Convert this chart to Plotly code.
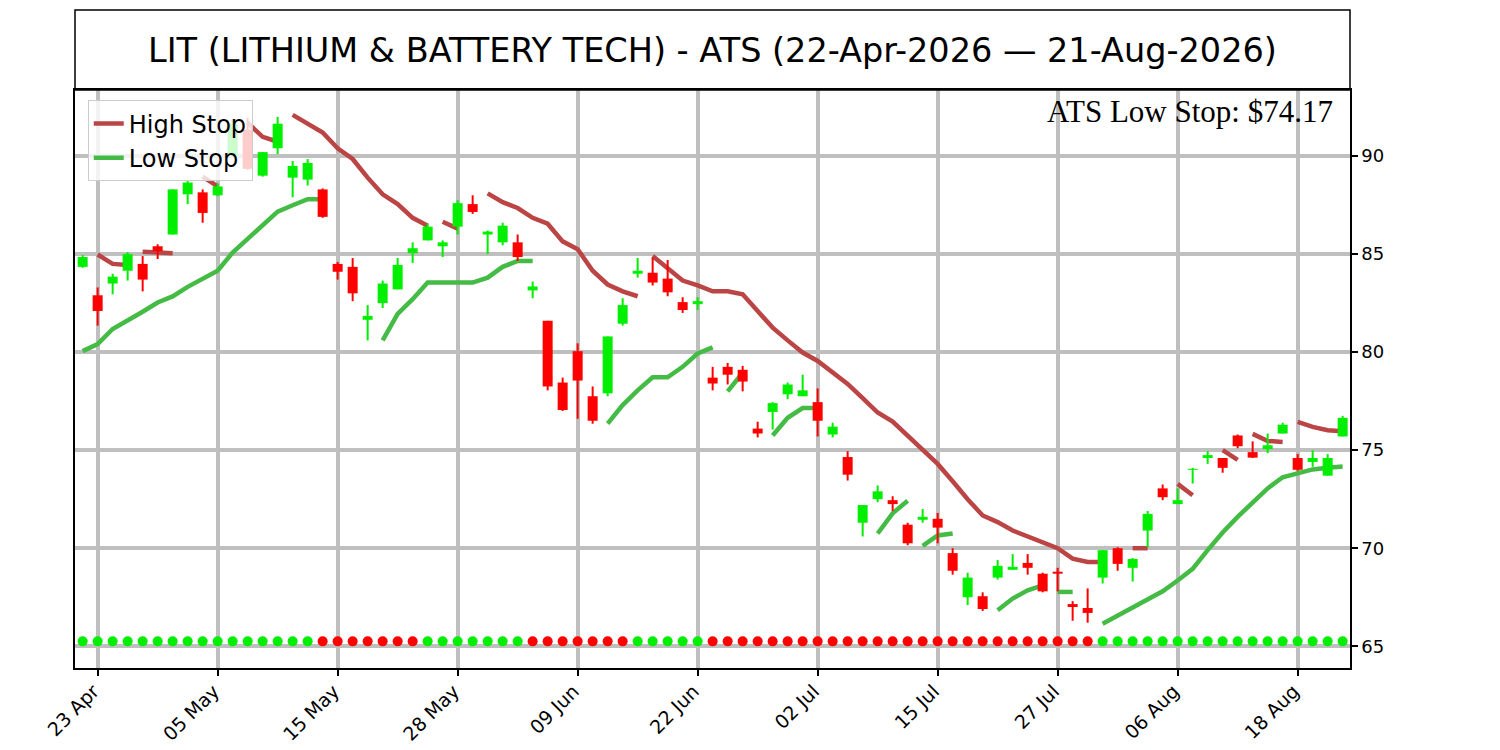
import plotly.graph_objects as go

TITLE = "LIT (LITHIUM & BATTERY TECH) - ATS (22-Apr-2026 — 21-Aug-2026)"
TICK_IDX = [1, 9, 17, 25, 33, 41, 49, 57, 65, 73, 81]
TICK_TEXT = ["23 Apr", "05 May", "15 May", "28 May", "09 Jun", "22 Jun",
             "02 Jul", "15 Jul", "27 Jul", "06 Aug", "18 Aug"]

# daily OHLC, one value per trading day (index 0 = 22-Apr-2026)
OPEN = [84.35, 82.9, 83.5, 84.15, 84.5, 85.4, 86.0, 88.05, 88.15, 88.0,
        90.05, 91.35, 89.0, 90.4, 88.9, 88.8, 88.3, 84.5, 84.35, 81.65,
        82.5, 83.2, 85.05, 85.7, 85.4, 86.4, 87.55, 86.0, 85.6, 85.6,
        83.15, 81.6, 78.45, 80.05, 77.75, 77.9, 81.45, 84.0, 84.05, 83.75,
        82.55, 82.45, 78.7, 79.25, 79.1, 76.1, 76.95, 77.85, 77.75, 77.45,
        75.8, 74.65, 71.3, 72.5, 72.45, 71.2, 71.45, 71.5, 69.75, 67.5,
        67.55, 68.5, 68.9, 69.25, 68.7, 68.8, 67.15, 66.95, 68.5, 70.0,
        69.0, 70.9, 73.05, 72.25, 74.0, 74.6, 74.6, 75.75, 74.9, 75.05,
        75.85, 74.6, 74.4, 73.7, 75.7]
HIGH = [84.95, 83.3, 84.0, 85.1, 84.9, 85.5, 88.3, 88.8, 88.3, 88.6,
        91.9, 91.95, 90.2, 92.0, 89.75, 89.85, 88.35, 84.6, 84.8, 82.4,
        83.65, 84.8, 85.6, 86.55, 85.7, 87.75, 88.0, 86.2, 86.6, 86.0,
        83.6, 81.6, 78.7, 80.45, 78.25, 80.8, 82.75, 84.8, 84.8, 84.7,
        82.8, 82.8, 79.25, 79.45, 79.3, 76.45, 77.45, 78.45, 78.85, 78.15,
        76.4, 74.95, 72.2, 73.2, 72.65, 71.3, 72.0, 71.8, 70.0, 68.75,
        67.75, 69.4, 69.7, 69.7, 68.75, 69.0, 67.3, 67.95, 69.9, 70.05,
        69.5, 71.9, 73.25, 73.05, 74.1, 74.95, 74.6, 75.8, 75.45, 75.85,
        76.4, 74.8, 75.0, 74.8, 76.75]
LOW = [84.3, 81.35, 82.95, 83.65, 83.1, 84.75, 86.0, 87.55, 86.6, 87.95,
       89.95, 89.3, 88.95, 90.1, 87.9, 88.5, 86.85, 83.7, 82.6, 80.6,
       82.25, 83.2, 84.55, 85.7, 84.85, 86.0, 87.05, 85.0, 85.45, 84.65,
       82.75, 78.05, 77.0, 76.6, 76.35, 77.75, 81.35, 83.8, 83.4, 82.85,
       82.0, 82.15, 78.05, 78.35, 78.0, 75.65, 76.05, 77.6, 77.75, 75.7,
       75.65, 73.45, 70.6, 72.35, 71.9, 70.15, 71.3, 70.25, 68.65, 67.1,
       66.8, 68.4, 68.9, 68.65, 67.75, 67.8, 66.3, 66.2, 68.2, 68.85,
       68.3, 70.05, 72.45, 72.25, 73.3, 74.3, 73.85, 75.1, 74.6, 74.85,
       75.85, 73.95, 74.15, 73.7, 75.7]
CLOSE = [84.85, 82.1, 83.85, 85.0, 83.7, 85.15, 88.3, 88.65, 87.1, 88.45,
         91.65, 89.35, 90.2, 91.65, 89.5, 89.65, 86.9, 84.1, 83.0, 81.85,
         83.5, 84.45, 85.3, 86.4, 85.6, 87.6, 87.15, 86.15, 86.45, 84.85,
         83.35, 78.25, 77.05, 78.55, 76.5, 80.8, 82.4, 84.15, 83.55, 83.05,
         82.15, 82.6, 78.4, 78.85, 78.5, 75.85, 77.4, 78.35, 78.05, 76.5,
         76.2, 73.75, 72.2, 72.9, 72.25, 70.25, 71.6, 71.05, 68.85, 68.5,
         66.9, 69.1, 69.05, 69.0, 67.8, 68.7, 67.0, 66.7, 69.9, 69.2,
         69.45, 71.75, 72.6, 72.45, 74.05, 74.75, 74.1, 75.2, 74.62, 75.25,
         76.3, 74.0, 74.6, 74.6, 76.65]

# stop lines, stored as (first day index, values) segments
HIGH_STOP_SEGS = [
    (1, [84.98, 84.5, 84.45]),
    (4, [85.12, 85.1, 85.05]),
    (8, [88.95, 88.45]),
    (11, [91.7, 90.98, 90.73]),
    (14, [92.1, 91.65, 91.2, 90.4, 89.85, 88.9, 88.05, 87.55, 86.85, 86.45]),
    (24, [86.65, 86.3]),
    (27, [88.1, 87.65, 87.35, 86.85, 86.55, 85.65, 85.25, 84.15, 83.45, 83.1, 82.85]),
    (38, [84.9, 84.25, 83.65, 83.4, 83.1, 83.1, 82.95, 82.1, 81.25, 80.6,
          79.98, 79.55, 78.94, 78.38, 77.65, 76.92, 76.46, 75.76, 75.02, 74.3,
          73.42, 72.5, 71.67, 71.33, 70.9, 70.6, 70.35, 70.0, 69.47, 69.3, 69.3]),
    (70, [70.0, 70.0]),
    (73, [73.28, 72.7]),
    (76, [75.0, 74.5]),
    (78, [75.83, 75.47, 75.42]),
    (81, [76.44, 76.19, 76.02, 75.97]),
]
LOW_STOP_SEGS = [
    (0, [80.05, 80.41, 81.18, 81.6, 82.06, 82.53, 82.84, 83.33, 83.72, 84.15,
         85.08, 85.76, 86.44, 87.17, 87.49, 87.8, 87.8]),
    (20, [80.6, 81.95, 82.7, 83.55, 83.55, 83.55, 83.55, 83.8, 84.35, 84.65, 84.65]),
    (35, [76.35, 77.3, 78.05, 78.72, 78.72, 79.25, 79.93, 80.24]),
    (43, [78.0, 78.95]),
    (46, [75.75, 76.65, 77.15, 77.15]),
    (53, [70.75, 71.78, 72.42]),
    (56, [70.12, 70.65, 70.75]),
    (61, [66.84, 67.43, 67.85, 68.1]),
    (65, [67.77, 67.77]),
    (68, [66.15, 66.55, 66.95, 67.35, 67.8, 68.35, 68.95, 69.9, 70.8, 71.6,
          72.35, 73.05, 73.62, 73.82, 74.02, 74.1, 74.17]),
]
# trend state runs (number of days, direction) -> dots along the bottom
TREND_RUNS = [(16, "up"), (7, "down"), (7, "up"), (7, "down"), (5, "up"), (26, "down"), (17, "up")]
DOT_LEVEL = 65.25

UP = "#00ee00"; DOWN = "#ff0000"
C_HIGH = "#bb4444"; C_LOW = "#44bb44"
GRID = "#bfbfbf"
FONT = "DejaVu Sans"

N = len(CLOSE)
days = list(range(N))


def seg_xy(segs):
    xs, ys = [], []
    for start, vals in segs:
        xs += list(range(start, start + len(vals))) + [None]
        ys += list(vals) + [None]
    return xs, ys


def vlines(idx, lo, hi):
    xs, ys = [], []
    for i in idx:
        xs += [i, i, None]
        ys += [lo[i], hi[i], None]
    return xs, ys


fig = go.Figure()

# stop lines first so candle bodies sit on top
for name, segs, col in [("High Stop", HIGH_STOP_SEGS, C_HIGH), ("Low Stop", LOW_STOP_SEGS, C_LOW)]:
    x, y = seg_xy(segs)
    fig.add_trace(go.Scatter(x=x, y=y, mode="lines", name=name,
                             line=dict(color=col, width=4.5), hoverinfo="skip"))

body_lo = [min(o, c) for o, c in zip(OPEN, CLOSE)]
body_hi = [max(o, c) for o, c in zip(OPEN, CLOSE)]
up_idx = [i for i in days if CLOSE[i] >= OPEN[i]]
dn_idx = [i for i in days if CLOSE[i] < OPEN[i]]
for idx, col in [(up_idx, UP), (dn_idx, DOWN)]:
    x, y = vlines(idx, LOW, HIGH)
    fig.add_trace(go.Scatter(x=x, y=y, mode="lines", line=dict(color=col, width=2),
                             showlegend=False, hoverinfo="skip"))
    x, y = vlines(idx, body_lo, body_hi)
    fig.add_trace(go.Scatter(x=x, y=y, mode="lines", line=dict(color=col, width=10),
                             showlegend=False, hoverinfo="skip"))

trend = []
for n, d in TREND_RUNS:
    trend += [d] * n
fig.add_trace(go.Scatter(x=days, y=[DOT_LEVEL] * N, mode="markers", showlegend=False,
                         marker=dict(size=10, color=[UP if t == "up" else DOWN for t in trend],
                                     line=dict(width=0)),
                         hoverinfo="skip"))

# page body has an 8px margin, so the figure is 8px smaller than the window
W, H = 1492, 742
M = dict(l=67, r=150, t=82, b=82)
PLOT_H = H - M["t"] - M["b"]
fig.add_shape(type="rect", xref="paper", yref="paper", x0=0, x1=1, y0=1, y1=1 + 80 / PLOT_H,
              line=dict(color="black", width=1.5))
fig.add_annotation(xref="paper", yref="paper", x=0.5, y=1 + 40 / PLOT_H, text=TITLE,
                   showarrow=False, xanchor="center", yanchor="middle",
                   font=dict(family=FONT, size=33.5, color="black"))
last_low = LOW_STOP_SEGS[-1][1][-1]
fig.add_annotation(xref="paper", yref="paper", x=0.9885, y=0.997,
                   text=f"ATS Low Stop: ${last_low:.2f}", showarrow=False,
                   xanchor="right", yanchor="top",
                   font=dict(family="Liberation Serif", size=31, color="black"))

fig.update_layout(
    width=W, height=H, template="plotly_white",
    paper_bgcolor="white", plot_bgcolor="white",
    margin=M,
    font=dict(family=FONT, color="black", size=18),
    legend=dict(x=0.01, y=0.982, xanchor="left", yanchor="top",
                bgcolor="rgba(255,255,255,0.8)", bordercolor="#cccccc", borderwidth=1,
                font=dict(family=FONT, size=24, color="black"), itemwidth=30,
                tracegroupgap=0),
)
fig.update_xaxes(range=[-0.51, 84.49], tickmode="array", tickvals=TICK_IDX, ticktext=TICK_TEXT,
                 tickangle=-45, showgrid=True, gridcolor=GRID, gridwidth=4, zeroline=False,
                 showline=True, linecolor="black", linewidth=1.5, mirror=True, automargin=False,
                 ticks="outside", ticklen=6, tickwidth=1.5, tickcolor="black",
                 ticklabelstandoff=-3, ticklabelshift=-4,
                 tickfont=dict(family=FONT, size=19, color="black"))
fig.update_yaxes(range=[63.89, 93.37], side="right", tickmode="linear", tick0=65, dtick=5,
                 showgrid=True, gridcolor=GRID, gridwidth=4, zeroline=False,
                 showline=True, linecolor="black", linewidth=1.5, mirror=True, automargin=False,
                 ticks="outside", ticklen=6, tickwidth=1.5, tickcolor="black",
                 tickfont=dict(family=FONT, size=18, color="black"))

fig.write_html("out.html")
